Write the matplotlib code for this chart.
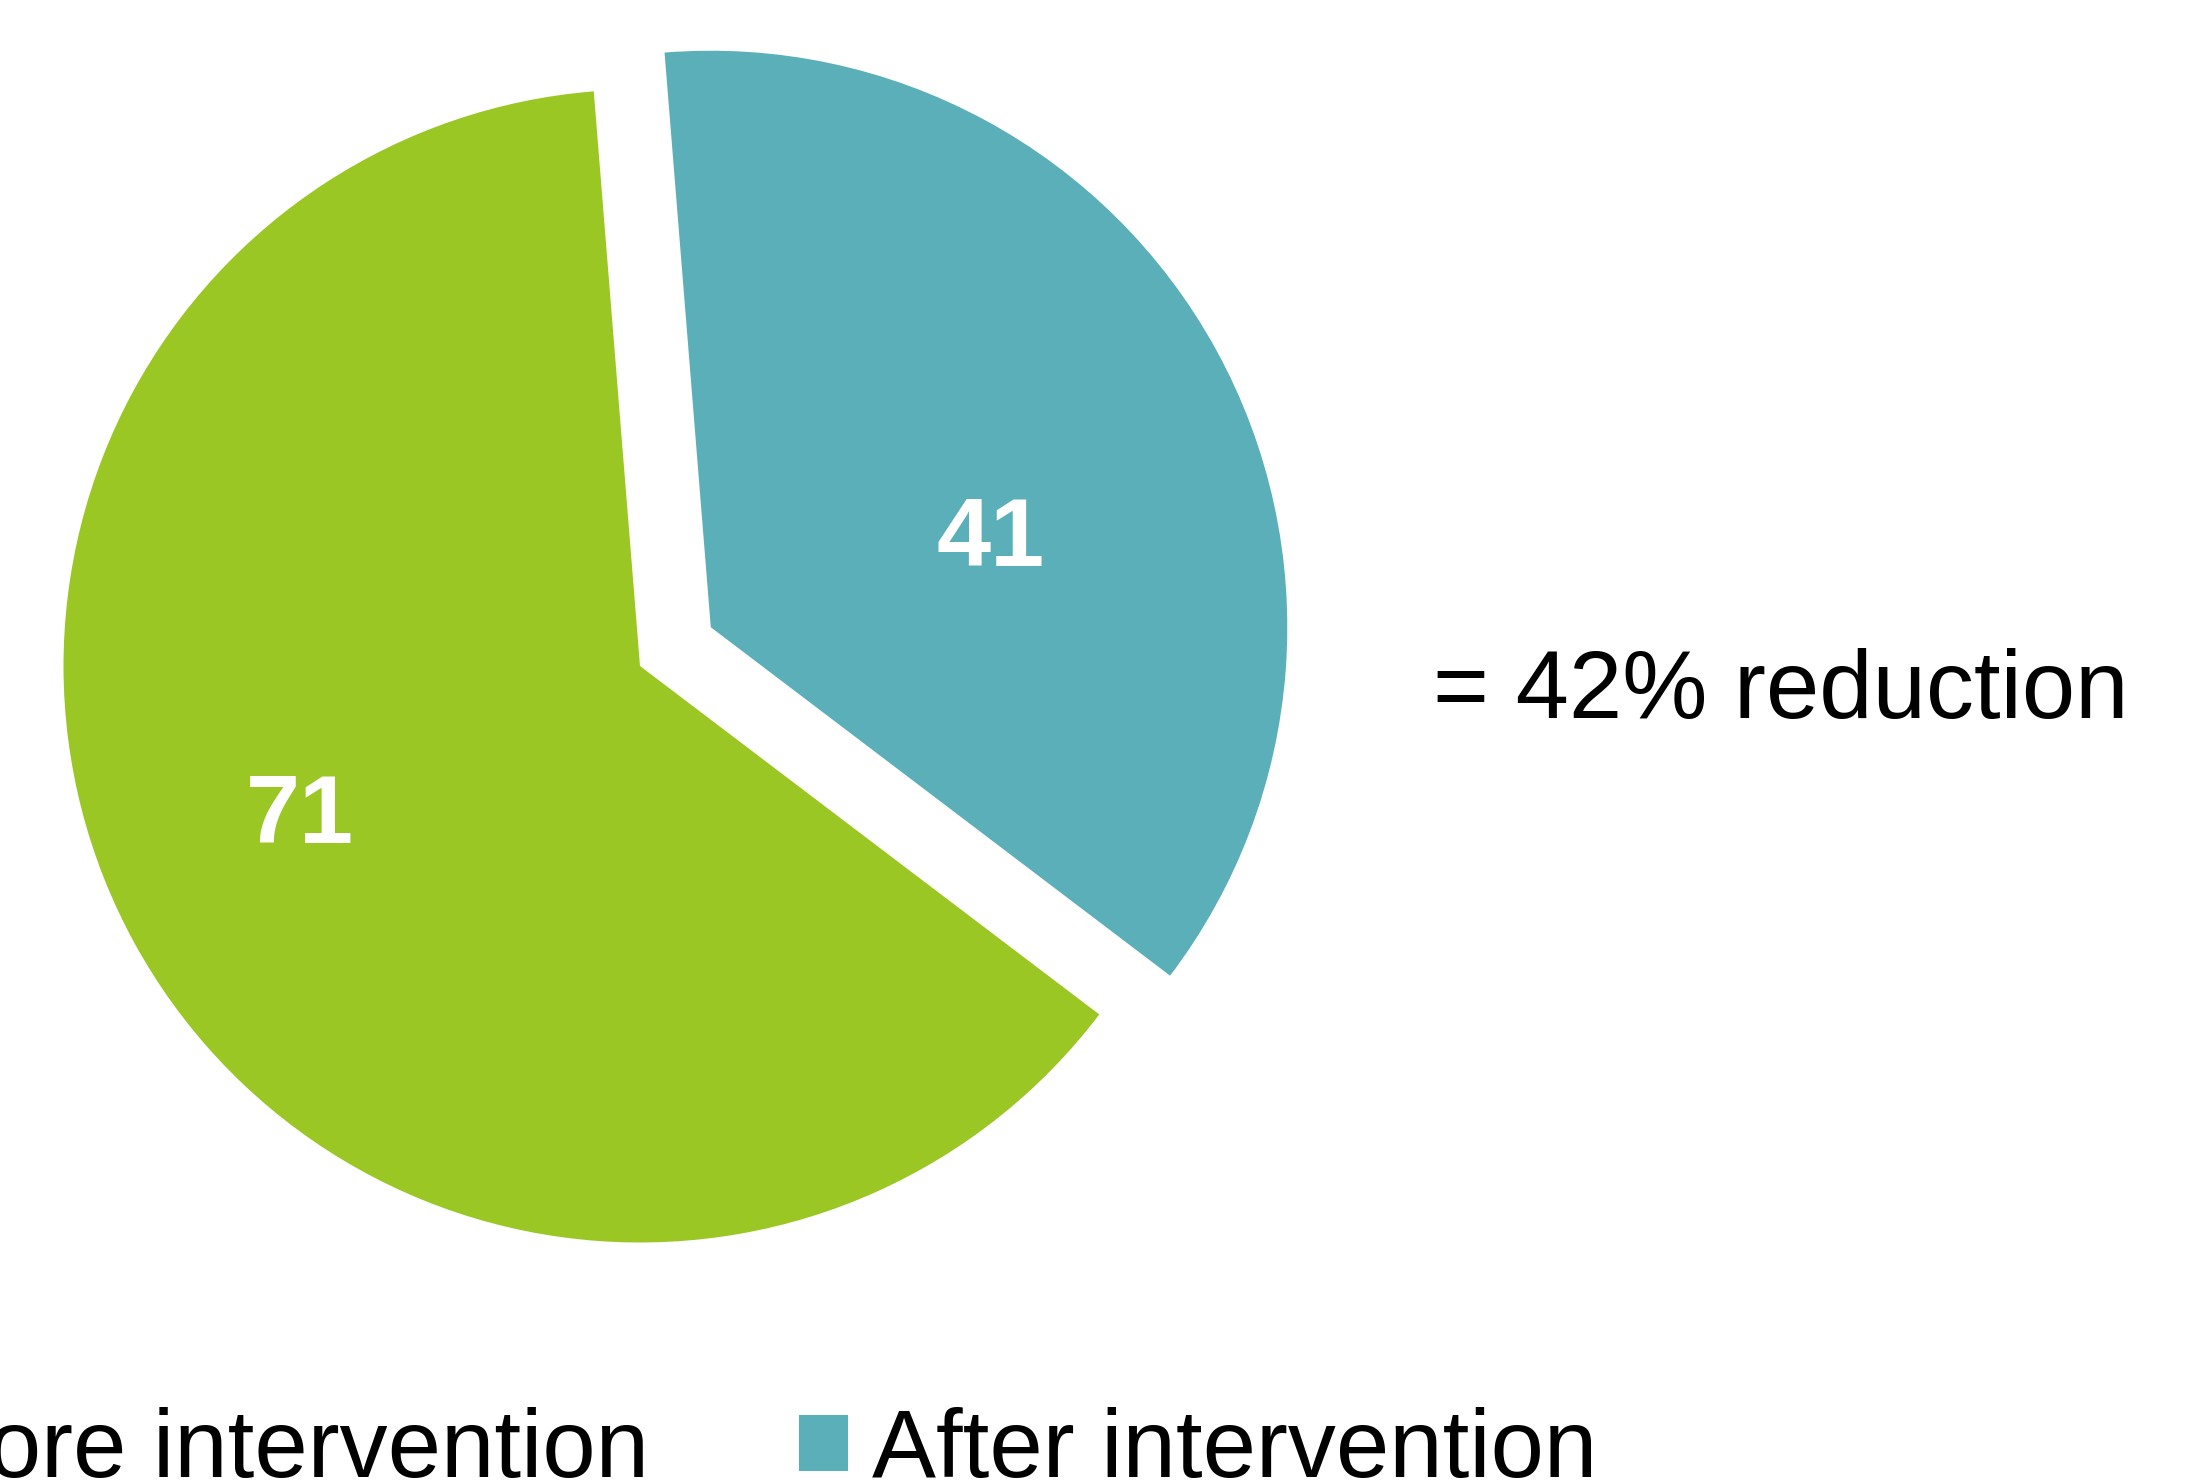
import numpy as np
import matplotlib.pyplot as plt

plt.rcParams['font.family'] = ['Liberation Sans', 'DejaVu Sans']

# data
labels = ['Before intervention', 'After intervention']
values = [71, 41]
colors = ['#9BC724', '#5AAFB9']
note = '= 42% reduction'

# label placement inside each slice (fraction of radius, angle offset in degrees)
label_r = [0.647, 0.508]
label_dang = [-4.6, -11.5]

fig = plt.figure(figsize=(21.98, 14.8), dpi=100)
ax = fig.add_axes([0, 0, 1, 1])

wedges, _ = ax.pie(values, colors=colors, startangle=94.6, counterclock=True,
                   explode=[0, 0.14], radius=1,
                   wedgeprops=dict(linewidth=0))

# slice value labels
for w, v, r, da in zip(wedges, values, label_r, label_dang):
    ang = np.deg2rad((w.theta1 + w.theta2) / 2 + da)
    cx, cy = w.center
    ax.text(cx + r * np.cos(ang), cy + r * np.sin(ang), str(v),
            color='white', fontsize=70, fontweight='bold',
            ha='center', va='center')

# axis limits so that 1 data unit = R px, pie centre at (640, 666) px
R = 576.5
ax.set_xlim(-640 / R, (2198 - 640) / R)
ax.set_ylim(-(1480 - 666) / R, 666 / R)
ax.set_aspect('auto')
ax.axis('off')

# reduction note
ax.text((1433 - 640) / R, (666 - 717.7) / R, note, fontsize=69,
        ha='left', va='baseline')

fig.legend(wedges, labels, loc='lower left', ncol=2, frameon=False,
           fontsize=69, handlelength=0.51, handleheight=0.51,
           handletextpad=0.25, columnspacing=1.57, borderpad=0,
           borderaxespad=0,
           bbox_to_anchor=(-229 / 2198, -17 / 1480),
           bbox_transform=fig.transFigure)

fig.savefig('out.png', dpi=100)
